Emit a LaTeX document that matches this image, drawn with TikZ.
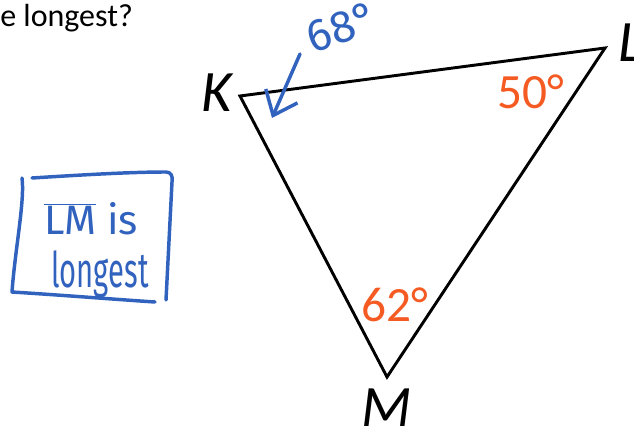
\documentclass[tikz,border=0pt]{standalone}
\usepackage{fontspec}
\setmainfont{Carlito}
\newfontfamily\handfont{Fira Sans}
\usepackage{graphicx}
\usetikzlibrary{arrows.meta}
\definecolor{anglecol}{RGB}{245,90,35}
\definecolor{inkblue}{RGB}{48,98,190}

\tikzset{
  side/.style={line width=2.2pt, line join=miter},
  vertexlbl/.style={inner sep=0pt, font=\fontsize{44}{50}\selectfont\itshape},
  anglelbl/.style={inner sep=0pt, text=anglecol, font=\fontsize{37}{44}\selectfont},
  ink/.style={color=inkblue, line width=2.6pt, line cap=round, line join=round},
  inktext/.style={inner sep=0pt, text=inkblue}
}

\begin{document}
\begin{tikzpicture}[x=0.75pt,y=0.75pt,yscale=-1,xscale=1]
\useasboundingbox (0,0) rectangle (634,434);
\clip (0,0) rectangle (634,434);

% Question text
\node (question) [anchor=base west, inner sep=0pt, font=\fontsize{24}{28}\selectfont] at (0,27) {e longest?};

% Triangle
\coordinate (K) at (240,96);
\coordinate (L) at (605,48);
\coordinate (M) at (387,377);
\draw [side] (K) -- (L) -- (M) -- cycle;

% Vertex labels
\node (lblK) [vertexlbl] at (217,93) {K};
\node (lblL) [vertexlbl, anchor=west] at (618,43) {L};
\node (lblM) [vertexlbl, anchor=base] at (387,426) {M};

% Angle labels
\node (angL) [anglelbl] at (531,92) {50°};
\node (angM) [anglelbl] at (395,305) {62°};

% Handwritten notes
\node (angK) [inktext, rotate=18, font=\handfont\fontsize{34}{40}\selectfont] at (342,27) {68°};
\coordinate (arrS) at (300,54);
\coordinate (arrE) at (272,118);
\draw [ink, -{Straight Barb[length=16pt, width=26pt, line width=2.6pt]}] (arrS) -- (arrE);

\draw [ink] (32,178) .. controls (80,175) and (130,172) .. (166,172) .. controls (171,172) and (173,176) .. (172,182) -- (166,300);
\draw [ink] (22,178) .. controls (25,200) and (15,250) .. (12,292) .. controls (60,295) and (110,299) .. (155,302);

\node (lmline) [inktext, anchor=base, font=\handfont\fontsize{28}{32}\selectfont] at (91,235) {\scalebox{1.1}[1.1]{$\overline{\hbox{LM}}$ is}};
\node (longline) [inktext, anchor=base, font=\handfont\fontsize{23}{28}\selectfont] at (100,287) {\scalebox{0.95}[1.6]{longest}};

\end{tikzpicture}
\end{document}
